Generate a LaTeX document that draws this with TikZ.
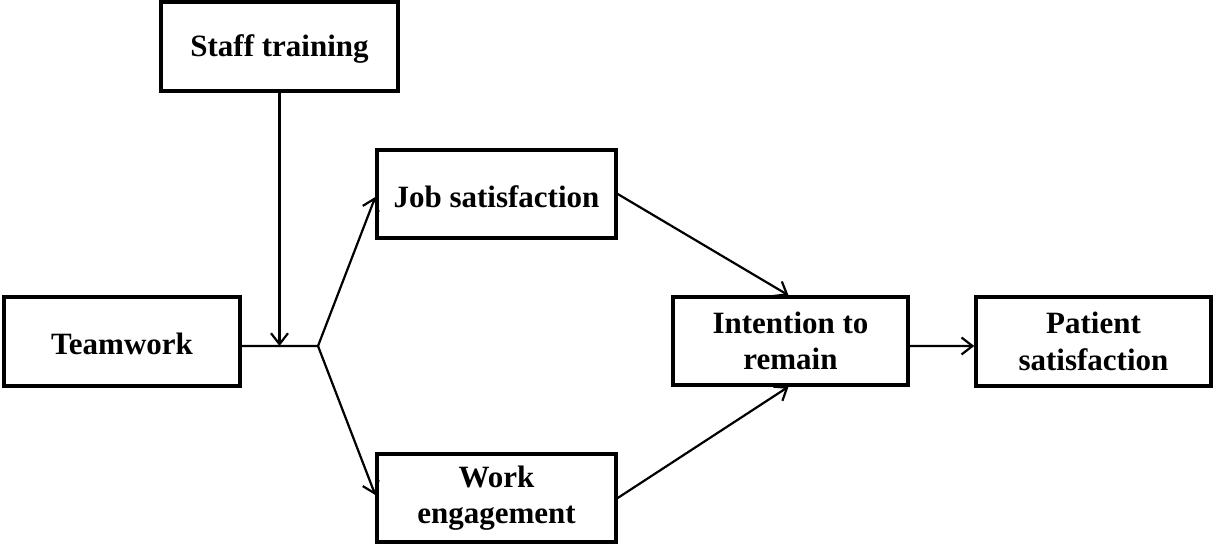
\documentclass[tikz,border=0pt]{standalone}
\usepackage{fontspec}
\setmainfont{Liberation Serif}
\usetikzlibrary{arrows.meta}
\begin{document}
\begin{tikzpicture}[x=1bp,y=-1bp,
  box/.style={draw=black, line width=3.4bp, rectangle, align=center,
    font=\fontsize{31bp}{36.5bp}\selectfont\bfseries, inner sep=0pt},
  oneline/.style={box, text height=27bp},
  link/.style={draw=black, line width=2.2bp,
    -{Straight Barb[length=11bp,width=17bp,line width=2.2bp]}},
  plain/.style={draw=black, line width=2.2bp}]
\useasboundingbox (0,0) rectangle (1213,544);

% factor boxes
\node[oneline, minimum width=237bp, minimum height=89bp] (staff) at (279.5,46.5) {Staff training};
\node[oneline, minimum width=239bp, minimum height=88bp] (job) at (496.5,194) {Job satisfaction};
\node[oneline, minimum width=236bp, minimum height=89bp] (team) at (122,341.5) {Teamwork};
\node[box, minimum width=239bp, minimum height=88bp] (work) at (496.5,498) {Work\\engagement};
\node[box, minimum width=235bp, minimum height=88bp] (intent) at (790.5,341) {Intention to\\remain};
\node[box, minimum width=235bp, minimum height=89bp] (patient) at (1093.5,341.5) {Patient\\satisfaction};

% branching point after teamwork
\coordinate (j) at (318,346);
\coordinate (teamout) at ([yshift=-4.5bp]team.east);

% connectors
\draw[plain] (teamout) -- (j);
\draw[link] (staff.south) -- (staff.south |- j);
\draw[link] (j) -- ([yshift=-3bp]job.west);
\draw[link] (j) -- ([yshift=3bp]work.west);
\draw[link] (job.east) -- ([xshift=-2bp]intent.north);
\draw[link] (work.east) -- ([xshift=-2bp]intent.south);
\draw[link] ([yshift=-5bp]intent.east) -- ([yshift=-4.5bp]patient.west);
\end{tikzpicture}
\end{document}
